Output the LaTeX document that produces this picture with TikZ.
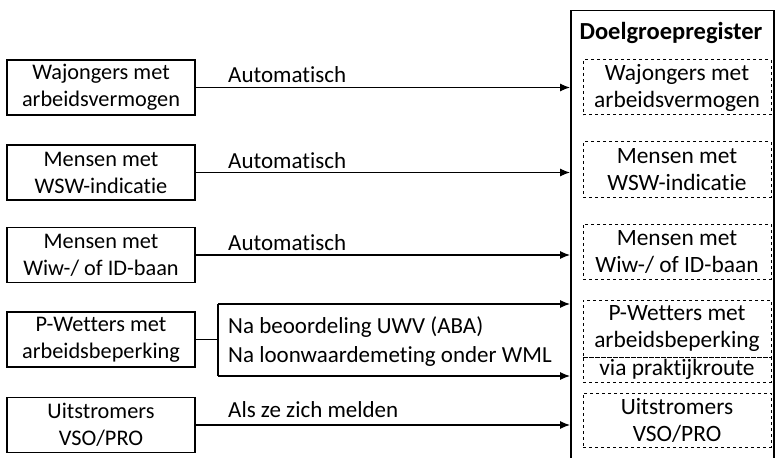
\documentclass[tikz,border=0pt]{standalone}
\usepackage{fontspec}
\setmainfont{Carlito}[Ligatures=NoCommon]
\usetikzlibrary{arrows.meta}
\begin{document}
\begin{tikzpicture}[x=1pt,y=-1pt,
  every node/.style={font=\fontsize{23}{27}\selectfont},
  srcbox/.style={draw, line width=1.3pt, minimum width=188pt, minimum height=55pt, inner sep=0pt, align=center, font=\fontsize{22.3}{27}\selectfont},
  regbox/.style={draw, dashed, line width=1pt, minimum width=188pt, inner sep=0pt, align=center, font=\fontsize{23.4}{27}\selectfont},
  lbl/.style={anchor=west, inner sep=0pt},
  arr/.style={line width=1.1pt, -{Latex[length=10pt,width=8pt]}},
  ln/.style={line width=1.1pt}]
\useasboundingbox (0,0) rectangle (775,457);
% register container
\node[draw, line width=1.5pt, minimum width=203pt, minimum height=460pt, inner sep=0pt, anchor=north west] (big) at (570,10) {};
\node[font=\fontsize{24.5}{27}\selectfont\bfseries] (title) at (671,33) {Doelgroepregister};
% source boxes
\node[srcbox] (s1) at (101,87.5) {Wajongers met\\arbeidsvermogen};
\node[srcbox] (s2) at (101,172.5) {Mensen met\\WSW-indicatie};
\node[srcbox] (s3) at (101,255) {Mensen met\\Wiw-/ of ID-baan};
\node[srcbox] (s4) at (101,339.5) {P-Wetters met\\arbeidsbeperking};
\node[srcbox] (s5) at (101,425) {Uitstromers\\VSO/PRO};
% register boxes
\node[regbox, minimum height=55pt] (r1) at (677,87.5) {Wajongers met\\arbeidsvermogen};
\node[regbox, minimum height=55pt] (r2) at (677,169.5) {Mensen met\\WSW-indicatie};
\node[regbox, minimum height=55pt] (r3) at (677,251.5) {Mensen met\\Wiw-/ of ID-baan};
\node[regbox, minimum height=57pt] (r4) at (677,328.5) {P-Wetters met\\arbeidsbeperking};
\node[regbox, minimum height=25pt] (r4b) at (677,369.5) {via praktijkroute};
\node[regbox, minimum height=54pt] (r5) at (677,420) {Uitstromers\\VSO/PRO};
% connectors
\draw[arr] (s1.east) -- (s1.east -| big.west);
\draw[arr] (s2.east) -- (s2.east -| big.west);
\draw[arr] (s3.east) -- (s3.east -| big.west);
\draw[arr] (s5.east) -- (s5.east -| big.west);
\coordinate (bt) at (218,304);
\coordinate (bb) at (218,376);
\draw[ln] (s4.east) -- (s4.east -| bt);
\draw[ln] (bt) -- (bb);
\draw[arr] (bt) -- (bt -| big.west);
\draw[arr] (bb) -- (bb -| big.west);
% labels
\node[lbl] (l1) at (228,75) {Automatisch};
\node[lbl] (l2) at (228,161) {Automatisch};
\node[lbl] (l3) at (228,243) {Automatisch};
\node[lbl] (l4a) at (228,327) {Na beoordeling UWV (ABA)};
\node[lbl] (l4b) at (228,356) {Na loonwaardemeting onder WML};
\node[lbl] (l5) at (228,410) {Als ze zich melden};
\end{tikzpicture}
\end{document}
